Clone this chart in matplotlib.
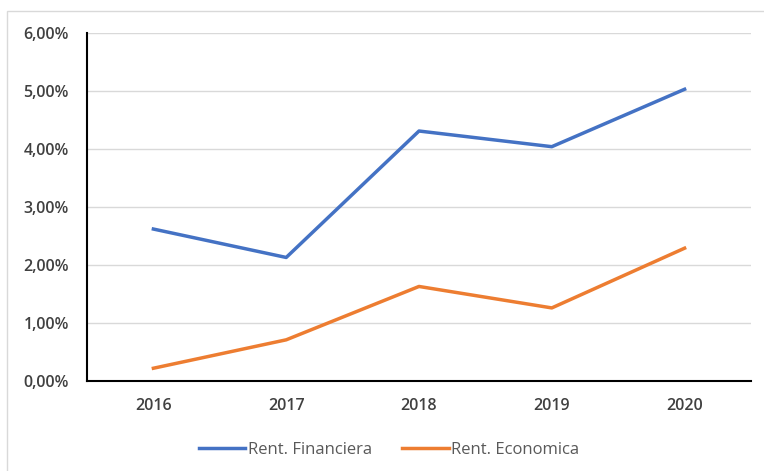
import matplotlib
matplotlib.use("Agg")
import matplotlib.pyplot as plt
from matplotlib.patches import Rectangle
from matplotlib.ticker import FuncFormatter

years = ["2016", "2017", "2018", "2019", "2020"]
rent_financiera = [2.62, 2.13, 4.31, 4.04, 5.03]
rent_economica = [0.22, 0.71, 1.63, 1.26, 2.29]

plt.rcParams['font.family'] = ['Open Sans', 'DejaVu Sans']

fig = plt.figure(figsize=(7.64, 4.71), dpi=100)
ax = fig.add_axes([87/764, 1 - 381/471, (751 - 87)/764, (381 - 33)/471])

# light outer frame (runs off the right/bottom edge in the screenshot)
fig.patches.append(Rectangle((7/764, -10/471), 800/764, 470/471, transform=fig.transFigure,
                             fill=False, edgecolor="#d9d9d9", linewidth=1))

x = range(len(years))
ax.plot(x, rent_financiera, color="#4472C4", linewidth=2.5, label="Rent. Financiera")
ax.plot(x, rent_economica, color="#ED7D31", linewidth=2.5, label="Rent. Economica")

ax.set_xlim(-0.5, len(years) - 0.5)
ax.set_ylim(0, 6)
ax.set_yticks([0, 1, 2, 3, 4, 5, 6])
ax.yaxis.set_major_formatter(FuncFormatter(lambda v, p: f"{v:.2f}%".replace(".", ",")))
ax.set_xticks(list(x))
ax.set_xticklabels(years)

ax.grid(axis="y", color="#d9d9d9", linewidth=1)
ax.set_axisbelow(True)
for s in ["top", "right"]:
    ax.spines[s].set_visible(False)
ax.spines["left"].set_color("black")
ax.spines["bottom"].set_color("black")
ax.spines["left"].set_linewidth(1.5)
ax.spines["bottom"].set_linewidth(1.5)
ax.tick_params(length=0, labelsize=11.5, colors="#404040", pad=13)
ax.tick_params(axis="x", pad=12)
for lbl in ax.get_xticklabels() + ax.get_yticklabels():
    lbl.set_fontweight("semibold")

leg = ax.legend(loc="center", bbox_to_anchor=(0.455, -0.198), ncol=2, frameon=False,
                prop={"size": 12}, labelcolor="#595959", handlelength=2.8,
                columnspacing=1.8, handletextpad=0.15)

fig.savefig("out.png", dpi=100)
